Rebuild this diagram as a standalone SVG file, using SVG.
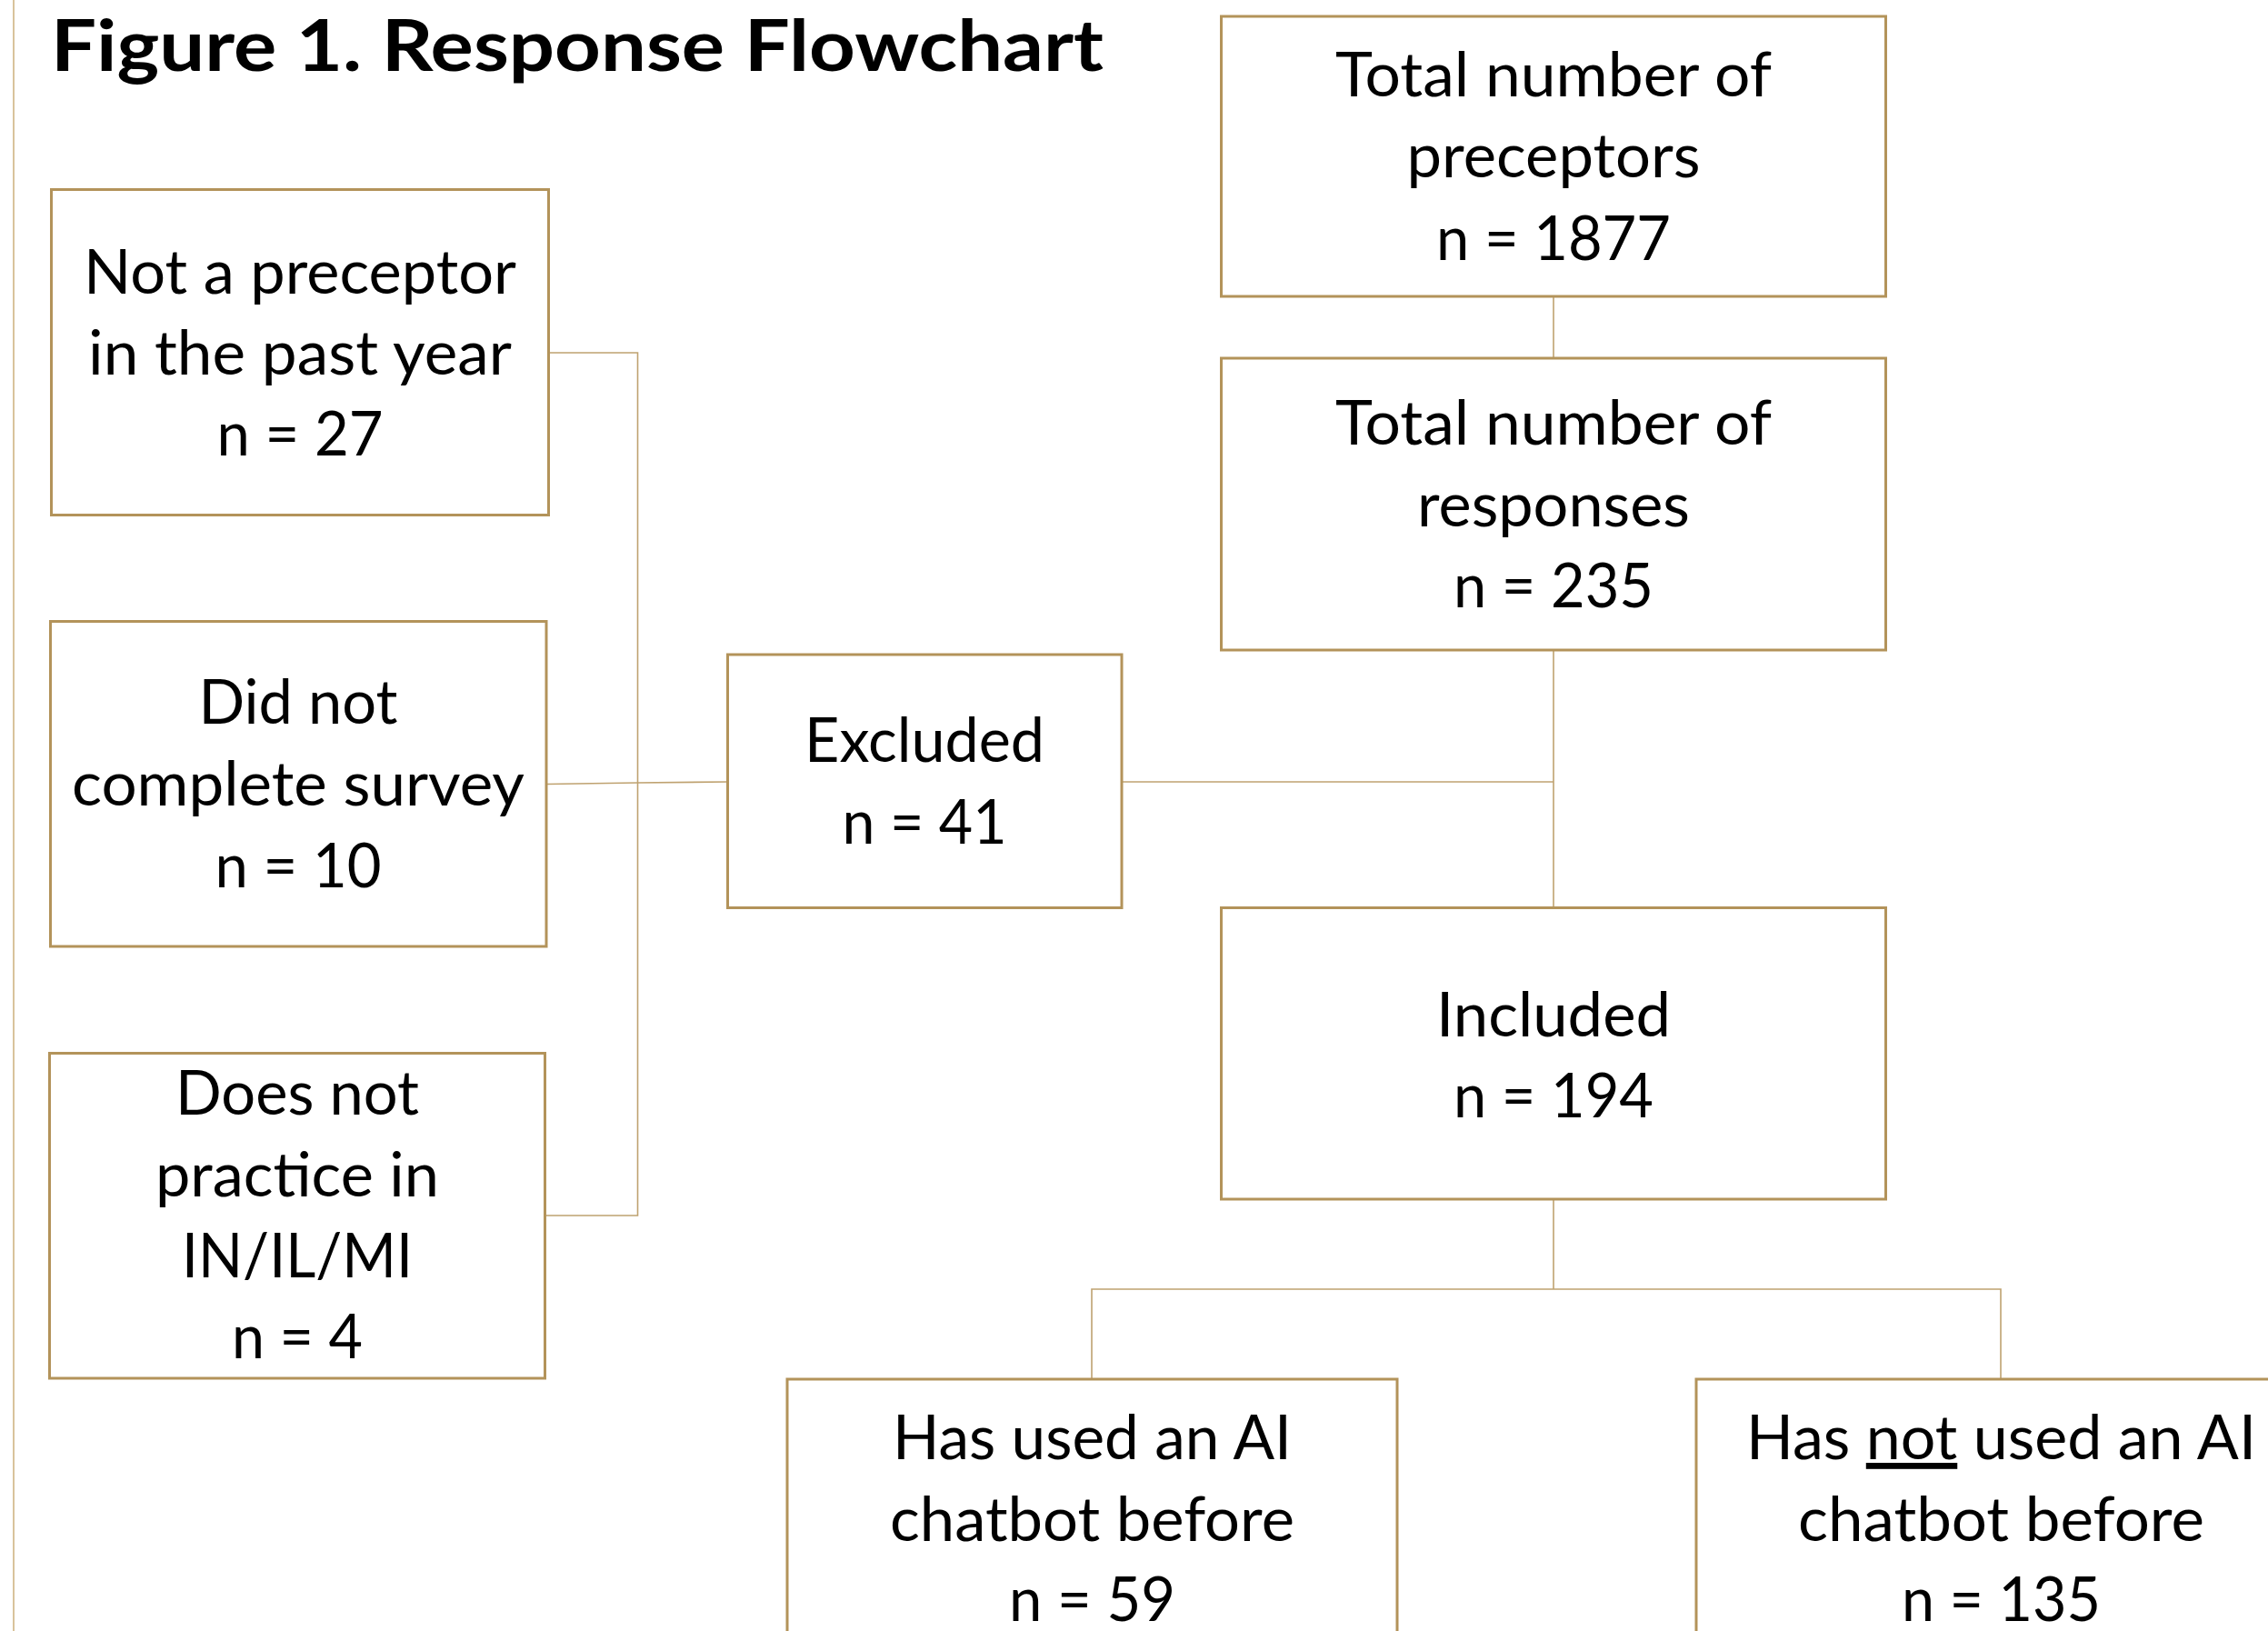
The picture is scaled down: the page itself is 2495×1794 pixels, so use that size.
<svg xmlns="http://www.w3.org/2000/svg" width="2495" height="1794" viewBox="0 0 2495 1794">
<style>
.box{fill:#ffffff;stroke:#B3935A;stroke-width:3}
.con{fill:none;stroke:#BFA270;stroke-width:1.6}
.t{font-family:Lato,"Open Sans","Liberation Sans",sans-serif;font-size:68px;fill:#000;text-anchor:middle}
.title{font-family:Lato,"Liberation Sans",sans-serif;font-size:79px;font-weight:bold;fill:#000}
</style>
<rect x="0" y="0" width="2495" height="1794" fill="#ffffff"/>
<line x1="15" y1="0" x2="15" y2="1794" stroke="#D9C39C" stroke-width="2"/>
<text class="title" x="56" y="78" textLength="1158" lengthAdjust="spacingAndGlyphs">Figure 1. Response Flowchart</text>
<g id="connectors">
<line class="con" x1="1709" y1="326" x2="1709" y2="394"/>
<line class="con" x1="1709" y1="715" x2="1709" y2="998"/>
<line class="con" x1="1234" y1="860" x2="1709" y2="860"/>
<polyline class="con" points="604,388 701.5,388 701.5,1337 599.5,1337"/>
<polyline class="con" points="601,862.5 701.5,861 800,860"/>
<line class="con" x1="1709" y1="1319" x2="1709" y2="1418"/>
<polyline class="con" points="1201,1517 1201,1418 2201,1418 2201,1517"/>
</g>
<g id="node-preceptors">
<rect class="box" x="1343.5" y="18" width="731" height="308"/>
<text class="t" x="1709" y="106" textLength="480" lengthAdjust="spacingAndGlyphs">Total number of</text>
<text class="t" x="1709" y="195" textLength="323" lengthAdjust="spacingAndGlyphs">preceptors</text>
<text class="t" x="1709" y="286" textLength="258" lengthAdjust="spacingAndGlyphs">n = 1877</text>
</g>
<g id="node-responses">
<rect class="box" x="1343.5" y="394" width="731" height="321"/>
<text class="t" x="1709" y="489" textLength="480" lengthAdjust="spacingAndGlyphs">Total number of</text>
<text class="t" x="1709" y="579" textLength="300" lengthAdjust="spacingAndGlyphs">responses</text>
<text class="t" x="1709" y="668" textLength="220" lengthAdjust="spacingAndGlyphs">n = 235</text>
</g>
<g id="node-not-preceptor">
<rect class="box" x="56.5" y="208.5" width="547" height="358"/>
<text class="t" x="330" y="323" textLength="476" lengthAdjust="spacingAndGlyphs">Not a preceptor</text>
<text class="t" x="330" y="412" textLength="466" lengthAdjust="spacingAndGlyphs">in the past year</text>
<text class="t" x="330" y="501" textLength="183" lengthAdjust="spacingAndGlyphs">n = 27</text>
</g>
<g id="node-did-not-complete">
<rect class="box" x="55.5" y="683.5" width="545.5" height="357.5"/>
<text class="t" x="328" y="796" textLength="219" lengthAdjust="spacingAndGlyphs">Did not</text>
<text class="t" x="328" y="886" textLength="498" lengthAdjust="spacingAndGlyphs">complete survey</text>
<text class="t" x="328" y="976" textLength="183" lengthAdjust="spacingAndGlyphs">n = 10</text>
</g>
<g id="node-does-not-practice">
<rect class="box" x="54.5" y="1158.5" width="545" height="357.5"/>
<text class="t" x="327" y="1226" textLength="268" lengthAdjust="spacingAndGlyphs">Does not</text>
<text class="t" x="327" y="1316" textLength="312" lengthAdjust="spacingAndGlyphs">practice in</text>
<text class="t" x="327" y="1405" textLength="254" lengthAdjust="spacingAndGlyphs">IN/IL/MI</text>
<text class="t" x="327" y="1494" textLength="144" lengthAdjust="spacingAndGlyphs">n = 4</text>
</g>
<g id="node-excluded">
<rect class="box" x="800.5" y="720" width="433.5" height="278.5"/>
<text class="t" x="1017" y="838" textLength="264" lengthAdjust="spacingAndGlyphs">Excluded</text>
<text class="t" x="1017" y="928" textLength="181" lengthAdjust="spacingAndGlyphs">n = 41</text>
</g>
<g id="node-included">
<rect class="box" x="1343.5" y="998.5" width="731" height="320.5"/>
<text class="t" x="1709" y="1140" textLength="258" lengthAdjust="spacingAndGlyphs">Included</text>
<text class="t" x="1709" y="1229" textLength="220" lengthAdjust="spacingAndGlyphs">n = 194</text>
</g>
<g id="node-has-used">
<rect class="box" x="866" y="1517" width="671" height="320"/>
<text class="t" x="1201.5" y="1605" textLength="439" lengthAdjust="spacingAndGlyphs">Has used an AI</text>
<text class="t" x="1201.5" y="1695" textLength="445" lengthAdjust="spacingAndGlyphs">chatbot before</text>
<text class="t" x="1201.5" y="1783" textLength="183" lengthAdjust="spacingAndGlyphs">n = 59</text>
</g>
<g id="node-has-not-used">
<rect class="box" x="1866" y="1517" width="671" height="320"/>
<text class="t" x="2201.5" y="1605" textLength="561" lengthAdjust="spacingAndGlyphs">Has <tspan text-decoration="underline">not</tspan> used an AI</text>
<text class="t" x="2201.5" y="1695" textLength="447" lengthAdjust="spacingAndGlyphs">chatbot before</text>
<text class="t" x="2201.5" y="1783" textLength="219" lengthAdjust="spacingAndGlyphs">n = 135</text>
</g>
</svg>
